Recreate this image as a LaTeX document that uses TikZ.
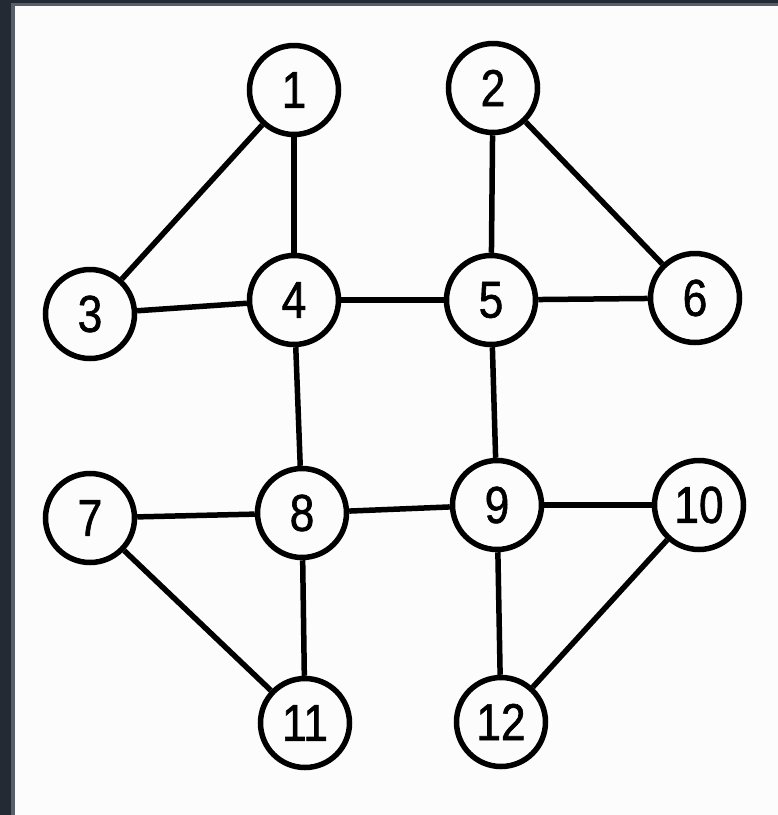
\documentclass[tikz,border=0pt]{standalone}
\usepackage{fontspec}
\setmainfont{Liberation Sans}
\newfontfamily\digitfont[FakeStretch=0.85,FakeBold=1.2]{Liberation Sans}
\definecolor{frameDark}{HTML}{232A33}
\definecolor{frameGray}{HTML}{55606C}
\definecolor{paper}{HTML}{FCFCFD}
\begin{document}
\begin{tikzpicture}[x=1pt,y=-1pt,
  vert/.style={circle,draw=black,line width=5.5pt,minimum size=89pt,inner sep=0pt,
    font=\digitfont\fontsize{52}{54}\selectfont},
  edge/.style={line width=5.5pt,black}]
\useasboundingbox (0,0) rectangle (778,815);
\fill[paper] (0,0) rectangle (778,815);
\fill[frameDark] (0,0) rectangle (11,815);
\fill[frameDark] (0,0) rectangle (778,3);
\fill[frameGray] (11,3) rectangle (15,815);
\fill[frameGray] (11,3) rectangle (778,6);
\node[vert] (n1) at (294,90) {1};
\node[vert] (n2) at (493,88) {2};
\node[vert] (n3) at (90,314) {3};
\node[vert] (n4) at (294,300) {4};
\node[vert] (n5) at (491,300) {5};
\node[vert] (n6) at (695,298) {6};
\node[vert] (n7) at (90,518) {7};
\node[vert] (n8) at (302,513) {8};
\node[vert] (n9) at (497,505) {9};
\node[vert] (n10) at (699,505) {10};
\node[vert] (n11) at (305,723) {11};
\node[vert] (n12) at (501,722) {12};
\foreach \a/\b in {n1/n3,n1/n4,n2/n5,n2/n6,n3/n4,n4/n5,n5/n6,n4/n8,n5/n9,n7/n8,n8/n9,n9/n10,n7/n11,n8/n11,n9/n12,n10/n12}
  \draw[edge] (\a) -- (\b);
\end{tikzpicture}
\end{document}
